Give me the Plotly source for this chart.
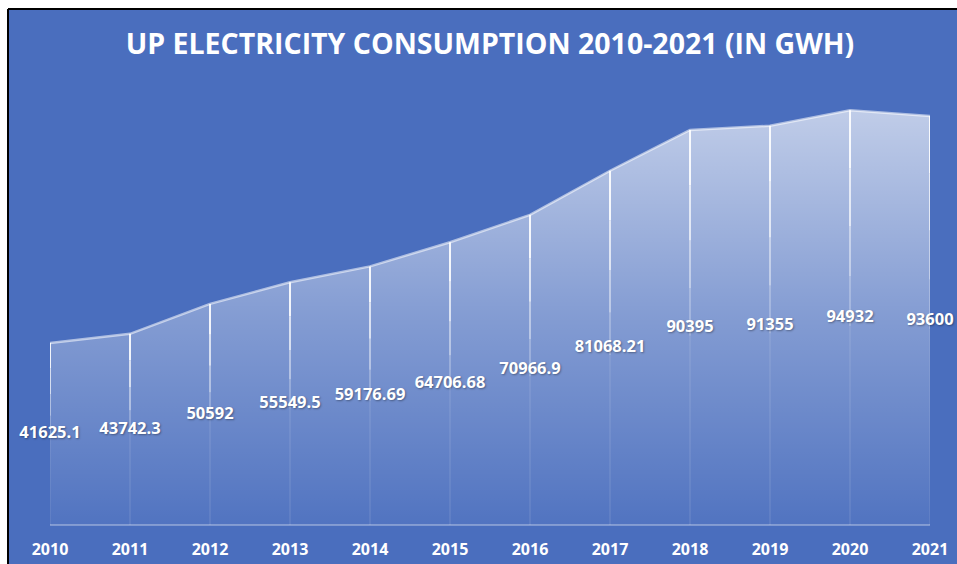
import plotly.graph_objects as go

years = [2010, 2011, 2012, 2013, 2014, 2015, 2016, 2017, 2018, 2019, 2020, 2021]
consumption = [41625.1, 43742.3, 50592, 55549.5, 59176.69, 64706.68, 70966.9, 81068.21, 90395, 91355, 94932, 93600]
labels = ["41625.1", "43742.3", "50592", "55549.5", "59176.69", "64706.68", "70966.9", "81068.21", "90395", "91355", "94932", "93600"]
title_text = "UP ELECTRICITY CONSUMPTION 2010-2021 (IN GWH)"

BG = "#4a6ebe"
W, H = 957, 564
ML, MR, MT, MB = 50, 27, 88, 39
PW, PH = W - ML - MR, H - MT - MB

fig = go.Figure()

# area with vertical gradient
fig.add_trace(go.Scatter(
    x=years, y=consumption, mode="lines", fill="tozeroy",
    line=dict(color="rgba(255,255,255,0.55)", width=2.5),
    fillgradient=dict(type="vertical", start=0, stop=96000,
                      colorscale=[[0, "rgba(255,255,255,0.04)"],
                                  [0.5, "rgba(255,255,255,0.32)"],
                                  [1, "rgba(255,255,255,0.66)"]]),
    hoverinfo="skip", showlegend=False))

# drop lines, fading downward
levels = [(1.0, 0.86, 0.9), (0.86, 0.72, 0.7), (0.72, 0.6, 0.45), (0.6, 0.48, 0.25), (0.48, 0.0, 0.08)]
for top, bot, op in levels:
    xs, ys = [], []
    for yr, v in zip(years, consumption):
        xs += [yr, yr, None]
        ys += [v * top, v * bot, None]
    fig.add_trace(go.Scatter(x=xs, y=ys, mode="lines",
                             line=dict(color=f"rgba(255,255,255,{op})", width=2),
                             hoverinfo="skip", showlegend=False))

# data labels at mid height
fig.add_trace(go.Scatter(
    x=years, y=[v / 2 for v in consumption], mode="text", text=labels,
    textposition="middle center", cliponaxis=False,
    textfont=dict(family="Open Sans", size=16.5, color="white", weight="bold",
                  shadow="1px 1px 2px rgba(0,0,0,0.35)"),
    hoverinfo="skip", showlegend=False))

# white strips at top/left and black border lines
top_y = (H - MB - 9) / PH
left_x = (8 - ML) / PW
fig.add_shape(type="rect", xref="paper", yref="paper", x0=-1, x1=2, y0=top_y, y1=2,
              fillcolor="white", line=dict(width=0), layer="below")
fig.add_shape(type="rect", xref="paper", yref="paper", x0=-1, x1=left_x, y0=-1, y1=2,
              fillcolor="white", line=dict(width=0), layer="below")
fig.add_shape(type="line", xref="paper", yref="paper", x0=left_x, x1=2, y0=top_y, y1=top_y,
              line=dict(color="black", width=2))
fig.add_shape(type="line", xref="paper", yref="paper", x0=left_x, x1=left_x, y0=-1, y1=top_y,
              line=dict(color="black", width=2))

fig.update_layout(
    width=W, height=H,
    margin=dict(l=ML, r=MR, t=MT, b=MB, autoexpand=False),
    paper_bgcolor=BG, plot_bgcolor=BG,
    title=dict(text=title_text, x=0.5, xref="paper", y=1 - 44 / H, yref="container",
               xanchor="center", yanchor="middle",
               font=dict(family="Open Sans", size=28.5, color="white", weight="bold")),
    xaxis=dict(range=[2010, 2021], tickmode="array", tickvals=years, automargin=False,
               ticktext=[str(y) for y in years], showgrid=False, zeroline=False,
               showline=False, ticks="outside", ticklen=10, tickcolor="rgba(0,0,0,0)",
               tickfont=dict(family="Open Sans", size=16, color="white", weight="bold")),
    yaxis=dict(range=[0, 100000], showgrid=False, showticklabels=False, automargin=False,
               zeroline=True, zerolinecolor="rgba(255,255,255,0.3)", zerolinewidth=1.5),
)

fig.write_html("out.html", config={"displayModeBar": False},
               post_script="document.body.style.margin='0';"
                           "document.documentElement.style.overflow='hidden';"
                           "document.body.style.overflow='hidden';")
